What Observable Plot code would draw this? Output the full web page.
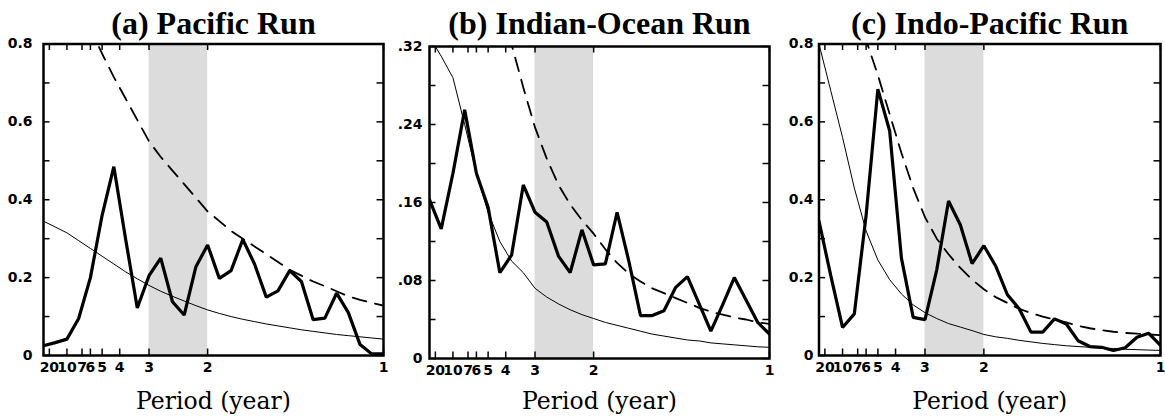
<!DOCTYPE html>
<html><head><meta charset="utf-8">
<script src="https://cdn.jsdelivr.net/npm/d3@7"></script>
<script src="https://cdn.jsdelivr.net/npm/@observablehq/plot@0.6"></script>
<style>
html,body{margin:0;padding:0;background:#fff;}
#chart{position:relative;width:1165px;height:417px;overflow:hidden;}
#chart svg{position:absolute;top:0;}
</style></head><body><div id="chart"></div>
<script>
// spectral estimates at harmonics k/30 cycles per year
const recordLength = 30;
const harmonics = [1,2,3,4,5,6,7,8,9,10,11,12,13,14,15,16,17,18,19,20,21,22,23,24,25,26,27,28,29,30];
const periodTicks = [20,10,7,6,5,4,3,2,1];
const bandPeriods = [3,2];
const panelTitles = ["(a) Pacific Run","(b) Indian-Ocean Run","(c) Indo-Pacific Run"];
const xLabel = "Period (year)";

// (a) Pacific Run
const spectrumA = [0.025,0.033,0.042,0.095,0.2,0.36,0.485,0.3,0.122,0.205,0.25,0.138,0.104,0.228,0.284,0.198,0.218,0.298,0.235,0.15,0.166,0.218,0.19,0.092,0.096,0.16,0.11,0.028,0.004,0.004];
const redNoiseA = [0.345,0.33,0.315,0.295,0.275,0.255,0.235,0.215,0.197,0.18,0.165,0.152,0.14,0.128,0.117,0.108,0.1,0.093,0.087,0.081,0.076,0.071,0.066,0.062,0.058,0.054,0.051,0.048,0.045,0.042];
const signifA = [1.05,1.0,0.96,0.9,0.84,0.775,0.715,0.66,0.605,0.55,0.51,0.475,0.44,0.405,0.37,0.345,0.32,0.3,0.28,0.26,0.24,0.22,0.205,0.19,0.178,0.165,0.152,0.143,0.135,0.128];

// (b) Indian-Ocean Run
const spectrumB = [0.163,0.133,0.19,0.255,0.19,0.155,0.088,0.106,0.178,0.15,0.14,0.105,0.088,0.132,0.096,0.097,0.15,0.1,0.044,0.044,0.049,0.073,0.084,0.056,0.028,0.055,0.083,0.06,0.037,0.025];
const redNoiseB = [0.33,0.31,0.288,0.24,0.19,0.15,0.12,0.1,0.088,0.072,0.063,0.056,0.05,0.045,0.041,0.037,0.034,0.031,0.028,0.025,0.023,0.021,0.019,0.018,0.016,0.015,0.014,0.013,0.012,0.0115];
const signifB = [1.2,1.0,0.85,0.7,0.58,0.47,0.39,0.322,0.278,0.237,0.205,0.178,0.158,0.142,0.128,0.112,0.098,0.087,0.079,0.072,0.067,0.062,0.057,0.052,0.048,0.045,0.042,0.04,0.037,0.0355];

// (c) Indo-Pacific Run
const spectrumC = [0.345,0.205,0.072,0.107,0.36,0.684,0.577,0.25,0.098,0.092,0.22,0.397,0.336,0.236,0.282,0.23,0.156,0.12,0.06,0.06,0.094,0.081,0.038,0.023,0.021,0.013,0.02,0.047,0.057,0.026];
const redNoiseC = [0.8,0.68,0.56,0.43,0.32,0.245,0.195,0.158,0.13,0.11,0.095,0.082,0.073,0.064,0.054,0.048,0.044,0.039,0.035,0.031,0.028,0.025,0.023,0.021,0.019,0.018,0.016,0.015,0.014,0.013];
const signifC = [2.0,1.6,1.3,1.0,0.81,0.72,0.62,0.52,0.43,0.355,0.3,0.26,0.225,0.195,0.17,0.15,0.135,0.12,0.109,0.1,0.092,0.085,0.076,0.07,0.065,0.061,0.058,0.056,0.054,0.052];

const yTicks08 = [0,0.1,0.2,0.3,0.4,0.5,0.6,0.7,0.8];
const yLabels08 = [0,0.2,0.4,0.6,0.8];
const yLabelText08 = ["0","0.2","0.4","0.6","0.8"];
const yTicks032 = [0,0.04,0.08,0.12,0.16,0.2,0.24,0.28,0.32];
const yLabels032 = [0,0.08,0.16,0.24,0.32];
const yLabelText032 = ["0",".08",".16",".24",".32"];

const panels = [
  {title: panelTitles[0], spec: spectrumA, red: redNoiseA, sig: signifA, ymax: 0.8, ticks: yTicks08, labs: yLabels08, labText: yLabelText08,
   left: 0, width: 390, ml: 43, mr: 7, mt: 43.5, mb: 62, gap: 11},
  {title: panelTitles[1], spec: spectrumB, red: redNoiseB, sig: signifB, ymax: 0.32, ticks: yTicks032, labs: yLabels032, labText: yLabelText032,
   left: 388, width: 388, ml: 41, mr: 7, mt: 46, mb: 59, gap: 7},
  {title: panelTitles[2], spec: spectrumC, red: redNoiseC, sig: signifC, ymax: 0.8, ticks: yTicks08, labs: yLabels08, labText: yLabelText08,
   left: 776, width: 389, ml: 42.5, mr: 5, mt: 43.5, mb: 62, gap: 5.5}
];

const H = 417;
const tickLen = 6.5;
const container = document.getElementById("chart");

for (const p of panels) {
  const rows = harmonics.map((k, i) => ({f: k / recordLength, spec: p.spec[i], red: p.red[i], sig: p.sig[i]}));
  const plotW = p.width - p.ml - p.mr;
  const plotH = H - p.mt - p.mb;
  const bottomY = H - p.mb;
  const svg = Plot.plot({
    width: p.width, height: H,
    marginLeft: p.ml, marginRight: p.mr, marginTop: p.mt, marginBottom: p.mb,
    style: {background: "transparent", overflow: "visible"},
    x: {domain: [1 / recordLength, 1], axis: null},
    y: {domain: [0, p.ymax], axis: null},
    marks: [
      Plot.rect([bandPeriods], {x1: d => 1 / d[0], x2: d => 1 / d[1], fill: "#dcdcdc"}),
      Plot.line(rows, {x: "f", y: "red", stroke: "black", strokeWidth: 1, clip: true}),
      Plot.line(rows, {x: "f", y: "sig", stroke: "black", strokeWidth: 1.8, strokeDasharray: "14,9", clip: true}),
      Plot.line(rows, {x: "f", y: "spec", stroke: "black", strokeWidth: 3.2, strokeLinejoin: "miter", clip: true}),
      // inward ticks
      Plot.tickX(periodTicks, {x: d => 1 / d, insetTop: plotH - tickLen, stroke: "black", strokeWidth: 1.5}),
      Plot.tickX(periodTicks, {x: d => 1 / d, insetBottom: plotH - tickLen, stroke: "black", strokeWidth: 1.5}),
      Plot.tickY(p.ticks, {y: d => d, insetRight: plotW - tickLen, stroke: "black", strokeWidth: 1.5}),
      Plot.tickY(p.ticks, {y: d => d, insetLeft: plotW - tickLen, stroke: "black", strokeWidth: 1.5}),
      Plot.frame({stroke: "black", strokeWidth: 2.5}),
      // tick labels
      Plot.text(periodTicks, {x: d => 1 / d, frameAnchor: "bottom", lineAnchor: "top", dy: 7, text: d => String(d),
        fontFamily: "DejaVu Sans", fontWeight: "bold", fontSize: 14, fill: "black"}),
      Plot.text(p.labs, {y: d => d, frameAnchor: "left", textAnchor: "end", dx: -p.gap, text: (d, i) => p.labText[i],
        fontFamily: "DejaVu Sans", fontWeight: "bold", fontSize: 14, fill: "black"}),
      // titles
      Plot.text([p.title], {frameAnchor: "top", lineAnchor: "bottom", dy: 33 - p.mt, text: d => d,
        fontFamily: "Liberation Serif", fontWeight: "bold", fontSize: 32, fill: "black"}),
      Plot.text([xLabel], {frameAnchor: "bottom", lineAnchor: "bottom", dy: 408 - bottomY, text: d => d,
        fontFamily: "DejaVu Serif", fontSize: 23.5, fill: "black"})
    ]
  });
  svg.style.left = p.left + "px";
  container.appendChild(svg);
}
</script>
</body></html>
